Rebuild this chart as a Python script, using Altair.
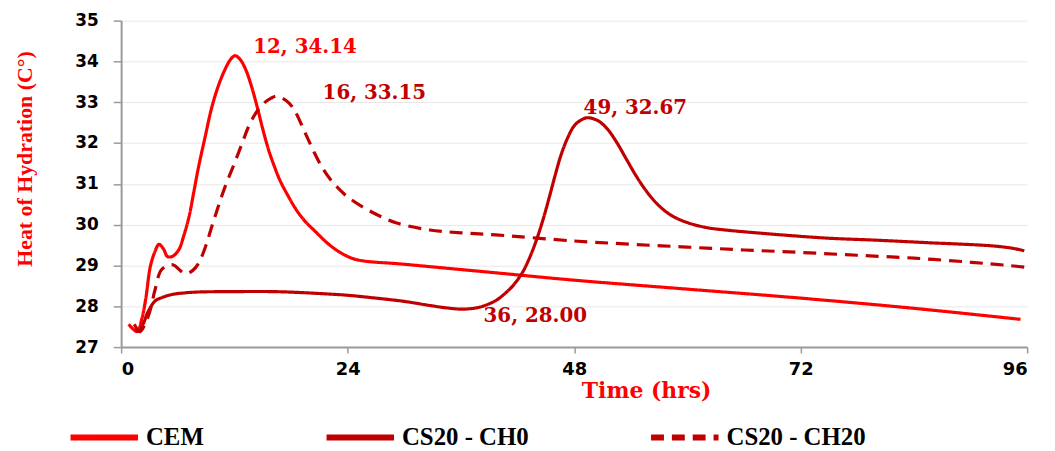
import altair as alt
import pandas as pd

# ---- data ----
cem_t = [0.8, 1.7, 2.2, 2.6, 3.1, 3.6, 4.0, 4.5, 4.9, 5.4, 6.1, 6.6, 7.2, 7.7, 8.2, 8.9, 9.6,
         10.3, 11.0, 11.6, 12.06, 12.6, 13.2, 13.8, 14.4, 15.0, 15.6, 16.2, 16.8, 17.7, 18.6,
         19.5, 20.5, 22.0, 23.5, 25.0, 30.0, 39.7, 48.0, 60.0, 72.0, 84.0, 95.3]
cem_v = [27.56, 27.38, 27.7, 28.17, 28.98, 29.35, 29.52, 29.4, 29.22, 29.22, 29.38, 29.7, 30.2,
         30.8, 31.41, 32.15, 32.87, 33.4, 33.8, 34.05, 34.14, 34.05, 33.8, 33.4, 32.9, 32.35,
         31.85, 31.45, 31.1, 30.7, 30.35, 30.08, 29.85, 29.52, 29.28, 29.14, 29.03, 28.82,
         28.64, 28.42, 28.2, 27.95, 27.68]

ch0_t = [1.4, 1.9, 2.4, 2.8, 3.6, 4.4, 5.4, 6.8, 8.2, 12.0, 16.0, 18.7, 22.0, 24.0, 27.0, 30.0,
         32.7, 34.5, 36.2, 38.0, 39.7, 40.5, 41.5, 42.5, 43.3, 44.0, 44.7, 45.4, 46.0, 46.6,
         47.3, 48.0, 48.7, 49.4, 50.5, 51.5, 52.5, 53.5, 54.5, 55.5, 56.5, 57.5, 58.5, 60.0,
         62.0, 64.0, 67.8, 74.8, 80.0, 85.3, 92.3, 94.5, 95.7]
ch0_v = [27.56, 27.4, 27.6, 27.84, 28.13, 28.22, 28.29, 28.33, 28.35, 28.36, 28.36, 28.34, 28.3,
         28.27, 28.2, 28.12, 28.02, 27.96, 27.93, 27.98, 28.14, 28.28, 28.5, 28.82, 29.2, 29.62,
         30.12, 30.7, 31.22, 31.7, 32.12, 32.42, 32.56, 32.62, 32.55, 32.35, 32.02, 31.62, 31.22,
         30.87, 30.58, 30.36, 30.2, 30.05, 29.93, 29.87, 29.79, 29.67, 29.62, 29.56, 29.48,
         29.42, 29.36]

ch20_t = [1.5, 2.0, 2.6, 3.1, 3.6, 4.3, 5.4, 6.8, 7.6, 8.2, 9.0, 9.6, 10.3, 11.0, 12.0, 12.8,
          13.5, 14.2, 15.0, 15.9, 16.5, 17.1, 17.8, 18.4, 19.5, 20.5, 21.3, 22.2, 23.1, 24.0,
          25.7, 27.5, 29.2, 32.7, 36.0, 39.7, 48.0, 54.0, 60.0, 66.0, 72.0, 78.0, 84.0, 90.0,
          94.0, 95.7]
ch20_v = [27.45, 27.38, 27.6, 27.92, 28.41, 28.9, 29.02, 28.8, 28.88, 29.05, 29.5, 29.95, 30.45,
          30.92, 31.5, 31.98, 32.4, 32.71, 32.95, 33.1, 33.15, 33.1, 32.98, 32.79, 32.25, 31.75,
          31.4, 31.1, 30.87, 30.68, 30.42, 30.2, 30.04, 29.87, 29.8, 29.75, 29.6, 29.52, 29.45,
          29.38, 29.32, 29.25, 29.18, 29.08, 29.0, 28.96]

series_names = ["CEM", "CS20 - CH0", "CS20 - CH20"]

ann_text = ["12, 34.14", "16, 33.15", "49, 32.67", "36, 28.00"]
ann_series = ["CEM", "CS20 - CH20", "CS20 - CH0", "CS20 - CH0"]
ann_x = [14.0, 21.35, 49.0, 38.4]
ann_y = [34.35, 33.23, 32.86, 27.75]

x_ticks = [0, 24, 48, 72, 96]
y_ticks = [27, 28, 29, 30, 31, 32, 33, 34, 35]

rows = []
for name, ts, vs in zip(series_names, [cem_t, ch0_t, ch20_t], [cem_v, ch0_v, ch20_v]):
    for t, v in zip(ts, vs):
        rows.append({"series": name, "t": t, "v": v})
df = pd.DataFrame(rows)
ann = pd.DataFrame({"text": ann_text, "series": ann_series, "t": ann_x, "v": ann_y})

RED = "#FF0000"
DARK = "#C00000"

x_enc = alt.X("t:Q", scale=alt.Scale(domain=[0, 96], nice=False),
              axis=alt.Axis(values=x_ticks, title="Time (hrs)", grid=False,
                            tickSize=6, labelPadding=8, titleX=529, titleY=44,
                            titleBaseline="middle", titleAlign="center"))
y_enc = alt.Y("v:Q", scale=alt.Scale(domain=[27, 35], nice=False, zero=False),
              axis=alt.Axis(values=y_ticks, title="Heat of Hydration (C\u00b0)", grid=True,
                            tickSize=8, labelPadding=15, titleX=-97, titleY=139,
                            titleBaseline="middle", titleAlign="center", titleAngle=-90))

lines = alt.Chart(df).mark_line(interpolate="catmull-rom", strokeWidth=3.2).encode(
    x=x_enc,
    y=y_enc,
    color=alt.Color("series:N", scale=alt.Scale(domain=series_names, range=[RED, DARK, DARK]),
                    legend=alt.Legend(title=None, orient="none", direction="horizontal",
                                      legendX=-54, legendY=383, symbolType="stroke",
                                      symbolSize=4624, symbolStrokeWidth=6,
                                      labelFont="Liberation Serif", labelFontSize=25,
                                      labelFontWeight="bold", labelColor="black",
                                      labelOffset=5, columnPadding=111, padding=0,
                                      labelLimit=300)),
    strokeDash=alt.StrokeDash("series:N",
                              scale=alt.Scale(domain=series_names, range=[[1, 0], [1, 0], [13, 8]]),
                              legend=None),
    detail="series:N",
)

labels = alt.Chart(ann).mark_text(align="left", baseline="middle", font="DejaVu Serif",
                                  fontWeight="bold", fontSize=20).encode(
    x="t:Q",
    y="v:Q",
    text="text:N",
    color=alt.condition(alt.datum.series == "CEM", alt.value(RED), alt.value(DARK)),
)

chart = alt.layer(lines, labels).properties(
    width=913, height=329,
    autosize=alt.AutoSizeParams(type="none"),
    padding={"left": 114, "top": 11, "right": 20, "bottom": 103},
).configure_view(stroke=None).configure_axis(
    domainColor="#9A9A9A", domainWidth=2, tickColor="#9A9A9A", tickWidth=1.5,
    gridColor="#E8E8E8", gridWidth=1,
    labelFont="DejaVu Sans", labelFontWeight="bold", labelColor="black",
    titleColor=RED, titleFontWeight="bold",
).configure_axisX(
    labelFontSize=18, titleFont="DejaVu Serif", titleFontSize=22,
).configure_axisY(
    labelFontSize=17, titleFont="Liberation Serif", titleFontSize=22,
)

chart.save("out.html", embed_options={"renderer": "svg", "actions": False})
